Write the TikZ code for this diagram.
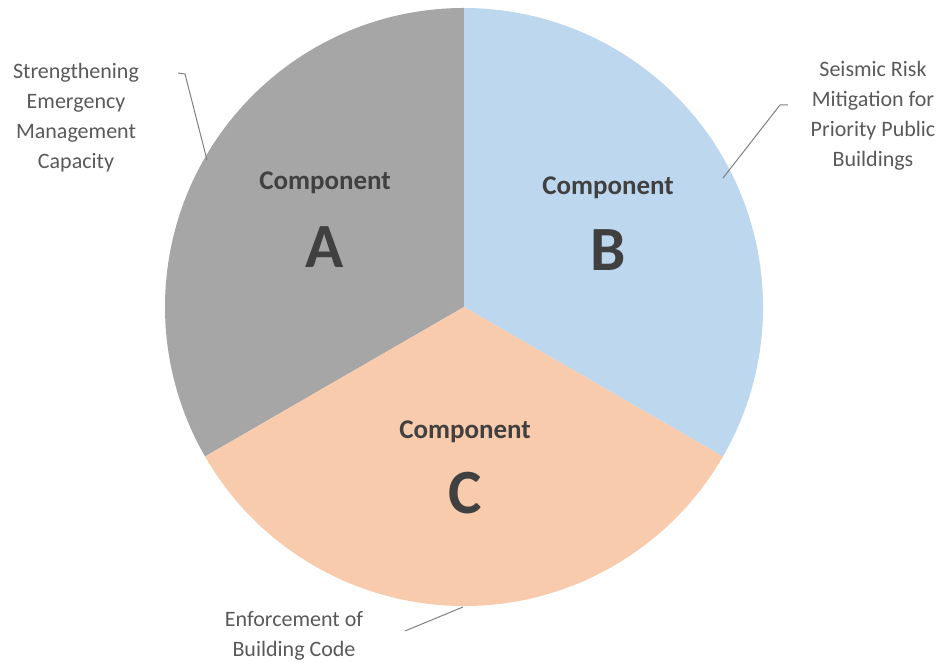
\documentclass[tikz,border=0pt]{standalone}
\usepackage{fontspec}
\setmainfont{Carlito}
\usetikzlibrary{positioning}
\definecolor{sliceA}{HTML}{A6A6A6}
\definecolor{sliceB}{HTML}{BDD7EE}
\definecolor{sliceC}{HTML}{F8CBAD}
\definecolor{darktext}{HTML}{404040}
\definecolor{labeltext}{HTML}{595959}
\definecolor{leader}{HTML}{808080}

\begin{document}
\begin{tikzpicture}[
	x=1pt,y=1pt,
	comp/.style={text=darktext,font=\fontsize{27}{30}\selectfont\bfseries,inner sep=0pt},
	letter/.style={text=darktext,font=\fontsize{63}{66}\selectfont\bfseries,inner sep=0pt},
	outlabel/.style={text=labeltext,font=\fontsize{22}{30}\selectfont,align=center,inner sep=0pt},
	leaderline/.style={draw=leader,line width=1pt}
	]
	\useasboundingbox (0,0) rectangle (939,663);
	\coordinate (ctr) at (464,356);
	\fill[sliceA] (ctr) -- ++(90:299pt) arc[start angle=90,end angle=210,radius=299pt] -- cycle;
	\fill[sliceB] (ctr) -- ++(-30:299pt) arc[start angle=-30,end angle=90,radius=299pt] -- cycle;
	\fill[sliceC] (ctr) -- ++(210:299pt) arc[start angle=210,end angle=330,radius=299pt] -- cycle;
	\node[comp] (compA) at (325,480) {Component};
	\node[letter, below=64pt of compA.center, anchor=center] (letA) {A};
	\node[comp] (compB) at (608,475) {Component};
	\node[letter, below=62pt of compB.center, anchor=center] (letB) {B};
	\node[comp] (compC) at (465,231) {Component};
	\node[letter, below=61pt of compC.center, anchor=center] (letC) {C};
	\node[outlabel] (labA) at (76,545) {Strengthening\\Emergency\\Management\\Capacity};
	\node[outlabel] (labB) at (873,547) {Seismic Risk\\Mitigation for\\Priority Public\\Buildings};
	\node[outlabel] (labC) at (294,27) {Enforcement of\\Building Code};
	\coordinate (startA) at (178,590);
	\coordinate (bendA) at (185,589);
	\coordinate (edgeA) at (207,503);
	\coordinate (startB) at (788,558);
	\coordinate (bendB) at (780,558);
	\coordinate (edgeB) at (723,485);
	\coordinate (startC) at (405,32);
	\coordinate (edgeC) at (463,56);
	\path[leaderline]
	(startA) -- (bendA) -- (edgeA)
	(startB) -- (bendB) -- (edgeB)
	(startC) -- (edgeC);
\end{tikzpicture}
\end{document}
